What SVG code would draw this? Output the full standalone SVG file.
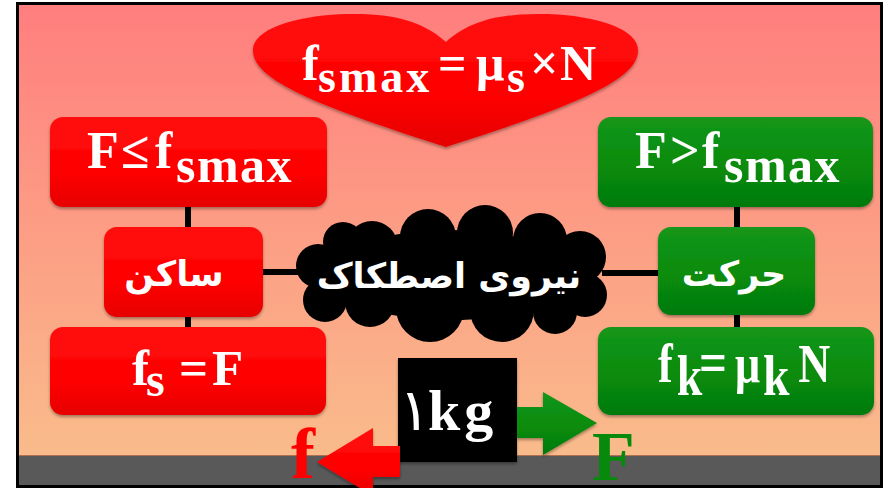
<svg xmlns="http://www.w3.org/2000/svg" width="884" height="488" viewBox="0 0 884 488">
<defs>
<linearGradient id="bg" x1="0" y1="0" x2="0" y2="1">
<stop offset="0" stop-color="#FF7E7E"/>
<stop offset="1" stop-color="#F9C08C"/>
</linearGradient>
<linearGradient id="red" x1="0" y1="0" x2="0" y2="1">
<stop offset="0" stop-color="#FF1010"/>
<stop offset="0.6" stop-color="#FF0000"/>
<stop offset="1" stop-color="#E60000"/>
</linearGradient>
<linearGradient id="green" x1="0" y1="0" x2="0" y2="1">
<stop offset="0" stop-color="#14961A"/>
<stop offset="0.6" stop-color="#078A0C"/>
<stop offset="1" stop-color="#057A08"/>
</linearGradient>
<filter id="sh" x="-10%" y="-10%" width="120%" height="130%">
<feDropShadow dx="0" dy="2" stdDeviation="1.5" flood-color="#000" flood-opacity="0.35"/>
</filter>
</defs>
<style>
.r{fill:url(#red);filter:url(#sh);}
.g{fill:url(#green);filter:url(#sh);}
.t{font-family:"Liberation Serif","Times New Roman",serif;font-weight:bold;fill:#fff;}
.fa{font-family:"DejaVu Sans",sans-serif;font-weight:bold;fill:#fff;}
.c{stroke:#000;stroke-width:6;fill:none;}
</style>
<rect x="17" y="3" width="865" height="484" fill="url(#bg)"/>
<rect id="ground" x="19" y="455" width="862" height="31" fill="#595959"/>
<line x1="19" y1="455.5" x2="881" y2="455.5" stroke="#B07050" stroke-width="1"/>

<g id="connectors">
<line class="c" x1="188" y1="205" x2="188" y2="229"/>
<line class="c" x1="188" y1="315" x2="188" y2="329"/>
<line class="c" x1="261" y1="272" x2="302" y2="272"/>
<line class="c" x1="737" y1="205" x2="737" y2="229"/>
<line class="c" x1="737" y1="313" x2="737" y2="329"/>
<line class="c" x1="602" y1="273" x2="660" y2="273"/>
</g>

<g id="heart">
<path class="r" d="M446,42 C420,18 385,13 345,14 C292,16 253,30 253,50 C253,78 305,102 446,147 C587,102 638,78 638,50 C638,30 600,16 548,14 C508,13 472,18 446,42 Z"/>
<text class="t" font-size="50"><tspan x="302" y="80">f</tspan><tspan x="318" y="92" font-size="46" letter-spacing="3">smax</tspan><tspan x="438" y="80">=</tspan><tspan x="476" y="80">μ</tspan><tspan x="507" y="92" font-size="46">s</tspan><tspan x="530" y="80">×</tspan><tspan x="560" y="80">N</tspan></text>
</g>

<g id="left-top">
<rect class="r" x="50" y="117" width="277" height="90" rx="13"/>
<text class="t" font-size="52"><tspan x="87" y="168">F</tspan><tspan x="121" y="168">≤</tspan><tspan x="155" y="168">f</tspan><tspan x="176" y="182" font-size="50" letter-spacing="1.5">smax</tspan></text>
</g>

<g id="right-top">
<rect class="g" x="598" y="117" width="275" height="90" rx="13"/>
<text class="t" font-size="52"><tspan x="635" y="168">F</tspan><tspan x="670" y="168">&gt;</tspan><tspan x="702" y="168">f</tspan><tspan x="724" y="182" font-size="50" letter-spacing="1.5">smax</tspan></text>
</g>

<g id="left-mid">
<rect class="r" x="104" y="227" width="159" height="90" rx="13"/>
<text class="fa" font-size="35" x="174" y="286" text-anchor="middle" direction="rtl">ساکن</text>
</g>

<g id="right-mid">
<rect class="g" x="658" y="227" width="157" height="88" rx="13"/>
<text class="fa" font-size="35" x="734" y="286" text-anchor="middle" direction="rtl">حرکت</text>
</g>

<g id="cloud">
<g fill="#000">
<circle cx="372" cy="247" r="26"/>
<circle cx="428" cy="237" r="28"/>
<circle cx="485" cy="233" r="28"/>
<circle cx="540" cy="240" r="27"/>
<circle cx="580" cy="257" r="26"/>
<circle cx="585" cy="295" r="22"/>
<circle cx="555" cy="312" r="22"/>
<circle cx="502" cy="310" r="32"/>
<circle cx="430" cy="308" r="34"/>
<circle cx="370" cy="302" r="25"/>
<circle cx="325" cy="300" r="22"/>
<circle cx="318" cy="266" r="22"/>
<circle cx="343" cy="242" r="20"/>
<ellipse cx="450" cy="275" rx="125" ry="45"/>
</g>
<text class="fa" font-size="35" x="449" y="288" text-anchor="middle" direction="rtl">نیروی اصطکاک</text>
</g>

<g id="left-bottom">
<rect class="r" x="50" y="327" width="276" height="88" rx="13"/>
<text class="t" font-size="51"><tspan x="132" y="385">f</tspan><tspan x="146" y="396" font-size="48">s</tspan><tspan x="179" y="385">=</tspan><tspan x="212" y="385">F</tspan></text>
</g>

<g id="right-bottom">
<rect class="g" x="598" y="327" width="276" height="88" rx="13"/>
<text class="t" font-size="54" transform="translate(658,382) scale(0.82,1)"><tspan x="0" y="0">f</tspan><tspan x="23" y="13" font-size="56">k</tspan><tspan x="50" y="0" font-size="60">=</tspan><tspan x="94" y="0">μ</tspan><tspan x="128" y="13" font-size="58">k</tspan><tspan x="171" y="0">N</tspan></text>
</g>

<g id="block">
<rect x="398" y="358" width="119" height="104" fill="#000" filter="url(#sh)"/>
<text class="t" font-size="58" y="430"><tspan x="399" font-family="DejaVu Sans,sans-serif" font-weight="normal" font-size="58">۱</tspan><tspan x="428" letter-spacing="4">kg</tspan></text>
</g>

<g id="force-F">
<polygon class="g" points="517,407 543,407 543,392 597,423 543,455 543,438 517,438"/>
<text x="592" y="480" font-family="Liberation Serif,serif" font-weight="bold" font-size="70" fill="#078A0C">F</text>
</g>

<g id="frame">
<rect x="17.5" y="3.5" width="864" height="483" fill="none" stroke="#000" stroke-width="3"/>
</g>

<g id="force-f">
<polygon class="r" points="400,446 373,446 373,428 317,462 373,496 373,477 400,477"/>
<text x="291" y="478" font-family="Liberation Serif,serif" font-weight="bold" font-size="72" fill="#FF0000">f</text>
</g>
</svg>
